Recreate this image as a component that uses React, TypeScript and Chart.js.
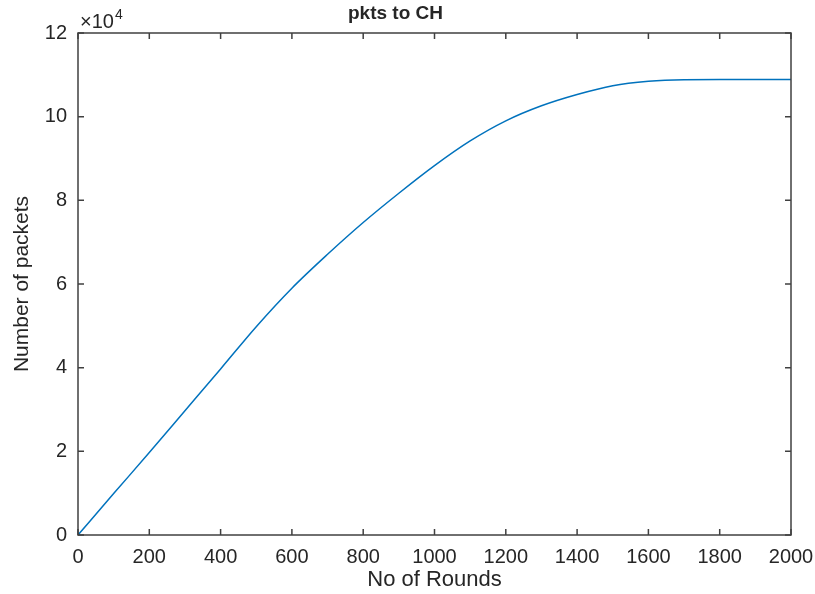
import React, { useEffect, useRef } from "react";
import { Chart, registerables } from "chart.js";

Chart.register(...registerables);

const rounds = [0, 100, 200, 300, 400, 500, 600, 700, 800, 900, 1000, 1100, 1200, 1300, 1400, 1500, 1600, 1700, 1800, 1900, 2000];
const packets = [0, 9900, 19700, 29700, 39700, 49800, 59000, 67100, 74700, 81700, 88300, 94200, 99000, 102600, 105300, 107400, 108450, 108850, 108900, 108900, 108900];
const xTicks = [0, 200, 400, 600, 800, 1000, 1200, 1400, 1600, 1800, 2000];
const yTicks = [0, 20000, 40000, 60000, 80000, 100000, 120000];
const titleText = "pkts to CH";
const xLabel = "No of Rounds";
const yLabel = "Number of packets";
const multiplierText = "×10";
const exponentText = "4";

const AXIS_COLOR = "#404040";
const TEXT_COLOR = "#262626";
const FONT = "'Liberation Sans', Arial, Helvetica, sans-serif";

const boxPlugin = {
  id: "matlabBox",
  afterDraw(chart: any) {
    const { ctx, chartArea } = chart;
    const { left, right, top, bottom } = chartArea;
    const xs = chart.scales.x;
    const ys = chart.scales.y;
    const tl = 6;
    ctx.save();
    ctx.strokeStyle = AXIS_COLOR;
    ctx.lineWidth = 1.5;
    ctx.strokeRect(left, top, right - left, bottom - top);
    ctx.beginPath();
    xTicks.forEach((v) => {
      const px = xs.getPixelForValue(v);
      ctx.moveTo(px, bottom);
      ctx.lineTo(px, bottom - tl);
      ctx.moveTo(px, top);
      ctx.lineTo(px, top + tl);
    });
    yTicks.forEach((v) => {
      const py = ys.getPixelForValue(v);
      ctx.moveTo(left, py);
      ctx.lineTo(left + tl, py);
      ctx.moveTo(right, py);
      ctx.lineTo(right - tl, py);
    });
    ctx.stroke();
    ctx.fillStyle = TEXT_COLOR;
    ctx.textAlign = "left";
    ctx.textBaseline = "alphabetic";
    ctx.font = `20px ${FONT}`;
    ctx.fillText(multiplierText, left + 2, top - 5);
    const w = ctx.measureText(multiplierText).width;
    ctx.font = `14px ${FONT}`;
    ctx.fillText(exponentText, left + 2 + w + 1, top - 14);
    ctx.restore();
  },
};

export default function App() {
  const ref = useRef<HTMLCanvasElement | null>(null);
  useEffect(() => {
    if (!ref.current) return;
    const chart = new Chart(ref.current, {
      type: "line",
      data: {
        datasets: [
          {
            data: rounds.map((r, i) => ({ x: r, y: packets[i] })),
            borderColor: "#0072BD",
            borderWidth: 1.5,
            pointRadius: 0,
            fill: false,
            cubicInterpolationMode: "monotone",
          },
        ],
      },
      options: {
        responsive: false,
        animation: false,
        layout: { padding: { right: 24, left: 0, bottom: 0, top: 0 } },
        plugins: {
          legend: { display: false },
          tooltip: { enabled: false },
          title: {
            display: true,
            text: titleText,
            color: TEXT_COLOR,
            font: { family: FONT, size: 19, weight: "bold" },
            padding: { top: 2, bottom: 8.2 },
          },
        },
        scales: {
          x: {
            type: "linear",
            min: 0,
            max: 2000,
            afterFit: (s: any) => {
              s.height = 59;
              s.paddingLeft = 0;
              s.paddingRight = 0;
            },
            afterBuildTicks: (s: any) => {
              s.ticks = xTicks.map((v) => ({ value: v }));
            },
            grid: { display: false, drawTicks: false },
            border: { display: false },
            ticks: {
              color: TEXT_COLOR,
              font: { family: FONT, size: 20 },
              padding: 10,
              maxRotation: 0,
              autoSkip: false,
              callback: (v: any) => String(v),
            },
            title: {
              display: true,
              text: xLabel,
              color: TEXT_COLOR,
              font: { family: FONT, size: 22 },
              padding: { top: 0, bottom: 1 },
            },
          },
          y: {
            type: "linear",
            min: 0,
            max: 120000,
            afterFit: (s: any) => {
              s.width = 78;
              s.paddingTop = 0;
              s.paddingBottom = 0;
            },
            afterBuildTicks: (s: any) => {
              s.ticks = yTicks.map((v) => ({ value: v }));
            },
            grid: { display: false, drawTicks: false },
            border: { display: false },
            ticks: {
              color: TEXT_COLOR,
              font: { family: FONT, size: 20 },
              padding: 11,
              autoSkip: false,
              callback: (v: any) => String(Number(v) / 10000),
            },
            title: {
              display: true,
              text: yLabel,
              color: TEXT_COLOR,
              font: { family: FONT, size: 21 },
              padding: { top: 10, bottom: 0 },
            },
          },
        },
      } as any,
      plugins: [boxPlugin],
    });
    return () => chart.destroy();
  }, []);
  return (
    <div style={{ position: "fixed", left: 0, top: 0, width: 815, height: 594, background: "#fff" }}>
      <canvas ref={ref} width={815} height={594} />
    </div>
  );
}
